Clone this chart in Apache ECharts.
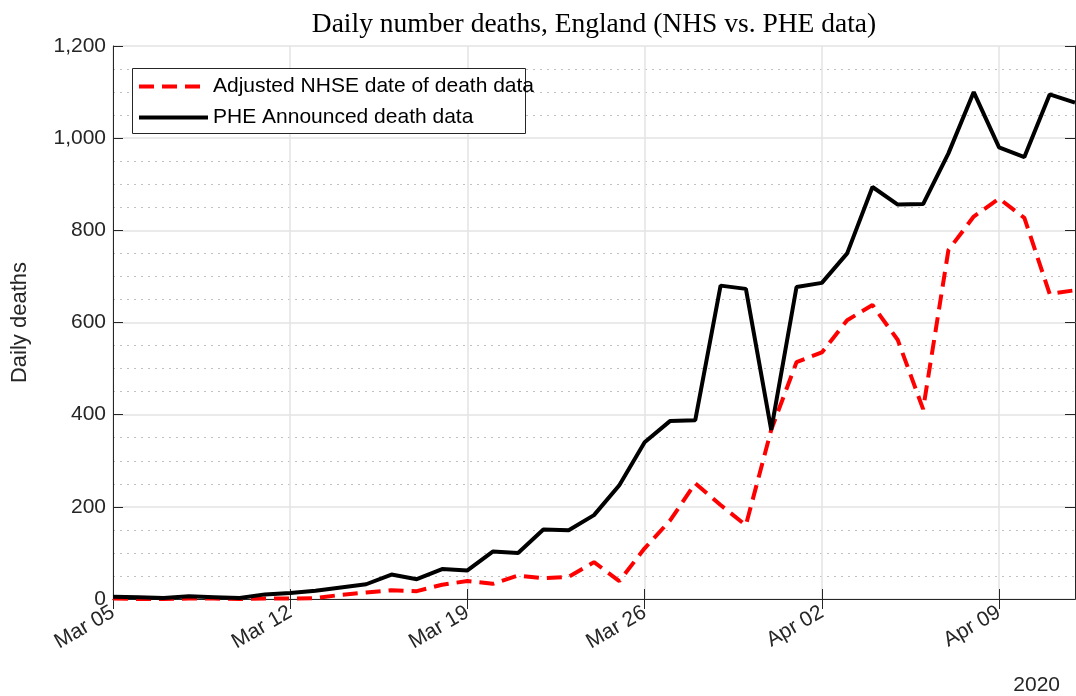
<!DOCTYPE html>
<html>
<head>
<meta charset="utf-8">
<script src="https://cdn.jsdelivr.net/npm/echarts@6/dist/echarts.min.js"></script>
<style>
html,body{margin:0;padding:0;background:#fff;}
#chart{width:1076px;height:696px;}
</style>
</head>
<body>
<div id="chart"></div>
<script>
const dates = ['Mar 05','Mar 06','Mar 07','Mar 08','Mar 09','Mar 10','Mar 11','Mar 12','Mar 13','Mar 14',
  'Mar 15','Mar 16','Mar 17','Mar 18','Mar 19','Mar 20','Mar 21','Mar 22','Mar 23','Mar 24',
  'Mar 25','Mar 26','Mar 27','Mar 28','Mar 29','Mar 30','Mar 31','Apr 01','Apr 02','Apr 03',
  'Apr 04','Apr 05','Apr 06','Apr 07','Apr 08','Apr 09','Apr 10','Apr 11','Apr 12'];
const nhseDeaths = [1,0,0,1,1,0,1,1,2,9,
  14,19,17,31,39,33,51,45,48,80,
  39,110,170,251,204,160,367,514,535,605,
  638,562,412,757,830,869,827,662,670];
const pheDeaths = [5,4,2,6,4,2,10,13,18,25,
  32,53,43,65,62,103,100,151,149,182,
  247,340,386,388,680,673,367,677,686,750,
  894,856,857,967,1100,980,959,1095,1077];
const yTicks = {min: 0, max: 1200, interval: 200};
const seriesNames = ['Adjusted NHSE date of death data', 'PHE Announced death data'];
const titleText = 'Daily number deaths, England (NHS vs. PHE data)';
const yearLabel = '2020';

const axisColor = '#262626';
const chart = echarts.init(document.getElementById('chart'));
chart.setOption({
  animation: false,
  backgroundColor: '#fff',
  title: {
    text: titleText,
    left: 594,
    textAlign: 'center',
    top: 11,
    padding: 0,
    textStyle: {fontFamily: 'Liberation Serif', fontSize: 27.5, fontWeight: 'normal', color: '#000'}
  },
  grid: {left: 113, right: 1, top: 46, bottom: 97},
  graphic: [
    {type: 'rect', left: 132, top: 68, z: 3,
     shape: {width: 393, height: 65},
     style: {fill: '#fff', stroke: axisColor, lineWidth: 1}},
    {type: 'text', right: 16, bottom: 0, z: 5,
     style: {text: yearLabel, font: '21px "Liberation Sans"', fill: axisColor}}
  ],
  legend: {
    left: 132, top: 68, orient: 'vertical',
    padding: [8, 4, 7, 5],
    itemWidth: 69, itemHeight: 20, itemGap: 10,
    z: 6,
    data: seriesNames,
    itemStyle: {opacity: 0},
    lineStyle: {width: 4},
    textStyle: {fontFamily: 'Liberation Sans', fontSize: 21, color: '#000', padding: [0,0,0,0]}
  },
  xAxis: [{
    type: 'category', data: dates, boundaryGap: false,
    axisLine: {lineStyle: {color: axisColor, width: 1}},
    axisTick: {inside: true, length: 10, interval: 6, lineStyle: {color: axisColor}},
    axisLabel: {interval: 6, rotate: 30, margin: 12, fontFamily: 'Liberation Sans', fontSize: 21, color: axisColor},
    splitLine: {show: true, interval: 6, lineStyle: {color: '#e3e3e3', width: 1.5}}
  }, {
    type: 'category', data: dates, boundaryGap: false, position: 'top',
    axisLine: {lineStyle: {color: axisColor, width: 1}},
    axisTick: {inside: true, length: 10, interval: 6, lineStyle: {color: axisColor}},
    axisLabel: {show: false},
    splitLine: {show: false}
  }],
  yAxis: [{
    type: 'value', min: yTicks.min, max: yTicks.max, interval: yTicks.interval,
    name: 'Daily deaths', nameLocation: 'middle', nameGap: 82, nameRotate: 90,
    nameTextStyle: {fontFamily: 'Liberation Sans', fontSize: 22, color: axisColor},
    axisLine: {show: true, lineStyle: {color: axisColor, width: 1}},
    axisTick: {show: true, inside: true, length: 10, lineStyle: {color: axisColor}},
    axisLabel: {margin: 7, fontFamily: 'Liberation Sans', fontSize: 21, color: axisColor,
      formatter: v => String(v).replace(/\B(?=(\d{3})+(?!\d))/g, ',')},
    splitLine: {show: true, lineStyle: {color: '#e3e3e3', width: 1.5}},
    minorTick: {show: false, splitNumber: 4},
    minorSplitLine: {show: true, lineStyle: {color: '#c0c0c0', width: 1, type: [2, 5]}}
  }, {
    type: 'value', min: yTicks.min, max: yTicks.max, interval: yTicks.interval, position: 'right',
    axisLine: {show: true, lineStyle: {color: axisColor, width: 1}},
    axisTick: {show: true, inside: true, length: 10, lineStyle: {color: axisColor}},
    axisLabel: {show: false},
    splitLine: {show: false}
  }],
  series: [{
    name: seriesNames[0], type: 'line', data: nhseDeaths, symbol: 'none',
    color: '#ff0000',
    lineStyle: {color: '#ff0000', width: 4, type: [15, 8], cap: 'butt'},
    z: 2
  }, {
    name: seriesNames[1], type: 'line', data: pheDeaths, symbol: 'none',
    color: '#000000',
    lineStyle: {color: '#000000', width: 4},
    z: 3
  }]
});
</script>
</body>
</html>
